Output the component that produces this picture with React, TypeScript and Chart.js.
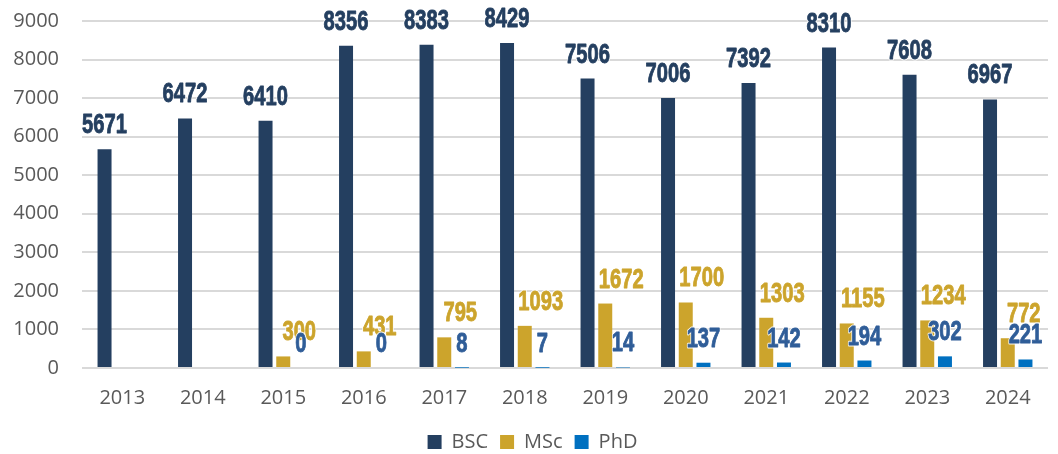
import React, { useEffect, useRef } from "react";
import { Chart, registerables } from "chart.js";

Chart.register(...registerables);

const years = ["2013", "2014", "2015", "2016", "2017", "2018", "2019", "2020", "2021", "2022", "2023", "2024"];
const bscValues = [5671, 6472, 6410, 8356, 8383, 8429, 7506, 7006, 7392, 8310, 7608, 6967];
const mscValues = [null, null, 300, 431, 795, 1093, 1672, 1700, 1303, 1155, 1234, 772];
const phdValues = [null, null, 0, 0, 8, 7, 14, 137, 142, 194, 302, 221];
const yTickValues = [0, 1000, 2000, 3000, 4000, 5000, 6000, 7000, 8000, 9000];

const seriesNames = ["BSC", "MSc", "PhD"];
const barColors = ["#243F60", "#CCA42C", "#0070C0"];
const labelColors = ["#243F60", "#CCA42C", "#2F5D98"];
const labelShiftX = [0, 16, 0];

const valueLabelPlugin = {
  id: "valueLabels",
  afterDatasetsDraw(chart: any) {
    const ctx = chart.ctx;
    chart.data.datasets.forEach((ds: any, di: number) => {
      const meta = chart.getDatasetMeta(di);
      if (meta.hidden) return;
      meta.data.forEach((bar: any, i: number) => {
        const v = ds.data[i];
        if (v === null || v === undefined) return;
        const { x, y } = bar.getProps(["x", "y"], true);
        ctx.save();
        ctx.translate(x + labelShiftX[di], y - 16);
        ctx.scale(0.72, 1);
        ctx.font = "bold 28px 'Liberation Sans'";
        ctx.textAlign = "center";
        ctx.textBaseline = "alphabetic";
        ctx.lineJoin = "round";
        ctx.lineWidth = 3;
        ctx.strokeStyle = "rgba(255,255,255,0.85)";
        ctx.strokeText(String(v), 0, 0);
        ctx.lineWidth = 0.9;
        ctx.strokeStyle = labelColors[di];
        ctx.strokeText(String(v), 0, 0);
        ctx.fillStyle = labelColors[di];
        ctx.fillText(String(v), 0, 0);
        ctx.restore();
      });
    });
  },
};

const legendShiftPlugin = {
  id: "legendShift",
  afterLayout(chart: any) {
    if (chart.legend) {
      chart.legend.left += 8.5;
      chart.legend.right += 8.5;
    }
  },
};

export default function App() {
  const canvasRef = useRef<HTMLCanvasElement | null>(null);

  useEffect(() => {
    if (!canvasRef.current) return;
    const seriesData = [bscValues, mscValues, phdValues];
    const chart = new Chart(canvasRef.current, {
      type: "bar",
      data: {
        labels: years,
        datasets: seriesData.map((d, i) => ({
          label: seriesNames[i],
          data: d,
          backgroundColor: barColors[i],
          borderWidth: 0,
          categoryPercentage: 0.66,
          barPercentage: 0.79,
        })),
      },
      options: {
        responsive: false,
        animation: false,
        layout: { padding: { top: 21, left: 0, right: 10, bottom: -8 } },
        plugins: {
          tooltip: { enabled: false },
          legend: {
            position: "bottom",
            labels: {
              font: { family: "'Open Sans'", size: 20 },
              color: "#595959",
              boxWidth: 14,
              boxHeight: 14,
              padding: 12,
            },
          },
        },
        scales: {
          x: {
            grid: { display: false, drawTicks: false },
            border: { display: false },
            ticks: {
              font: { family: "'Open Sans'", size: 20 },
              color: "#595959",
              padding: 18,
              maxRotation: 0,
            },
            afterFit: (s: any) => {
              s.height = 52;
            },
          },
          y: {
            min: 0,
            max: 9000,
            grid: {
              color: "#D9D9D9",
              lineWidth: 2,
              drawTicks: true,
              tickLength: 23,
              tickColor: "rgba(0,0,0,0)",
            },
            border: { display: false },
            ticks: {
              font: { family: "'Open Sans'", size: 20 },
              color: "#595959",
              padding: 0,
              callback: (v: any) => String(v),
            },
            afterBuildTicks: (s: any) => {
              s.ticks = yTickValues.map((v) => ({ value: v }));
            },
            afterFit: (s: any) => {
              s.width = 82;
            },
          },
        },
      },
      plugins: [valueLabelPlugin, legendShiftPlugin],
    });
    return () => chart.destroy();
  }, []);

  return (
    <div style={{ position: "absolute", left: 0, top: 0, width: 1058, height: 454, background: "#fff" }}>
      <canvas ref={canvasRef} width={1058} height={454} style={{ display: "block" }} />
    </div>
  );
}
